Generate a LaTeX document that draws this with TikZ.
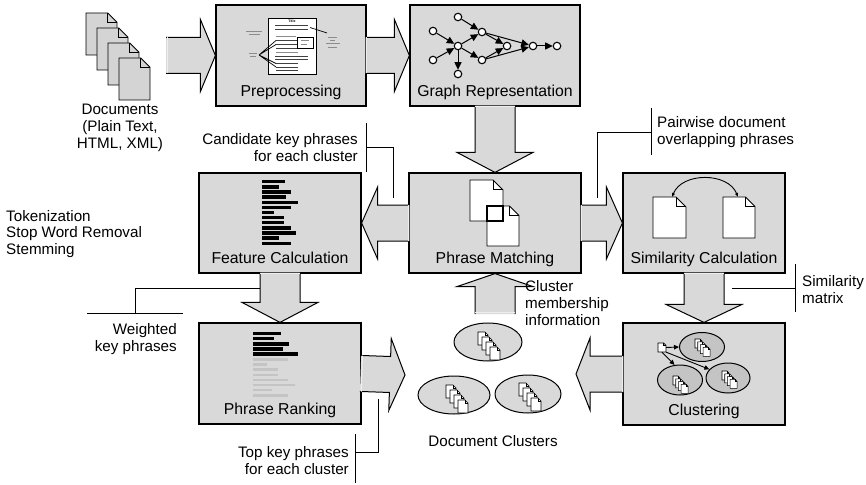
\documentclass[tikz,border=0pt]{standalone}
\usepackage{fontspec}
\setmainfont{Liberation Sans}
\usetikzlibrary{arrows.meta,calc,positioning,shapes.geometric}
\definecolor{boxgray}{gray}{0.85}
\definecolor{pagegray}{gray}{0.83}
\definecolor{ringgray}{gray}{0.77}
\definecolor{bargray}{gray}{0.77}

% one sheet with a folded corner, #2 = top left corner
\newcommand{\docpage}[4][white]{%
  \pgfmathsetmacro\dogear{0.3*#3}%
  \draw[fill=#1] (#2) -- ++({#3-\dogear},0) -- ++(\dogear,\dogear) -- ++(0,{#4-\dogear}) -- ++(-#3,0) -- cycle;
  \draw (#2) ++({#3-\dogear},0) -- ++(0,\dogear) -- ++(\dogear,0);
}
% four sheets stacked
\newcommand{\docstack}[7][white]{%
  \foreach \k in {0,...,3}{%
    \docpage[#1]{{#2+\k*#6},{#3+\k*#7}}{#4}{#5}}%
}
% block arrow from #2 to #3, #1 = head length
\newcommand{\fatarrow}[3][15]{%
  \coordinate (fa-t) at ($(#2)!-1pt!(#3)$);
  \coordinate (fa-p) at (#3);
  \coordinate (fa-b) at ($(fa-p)!#1pt!(fa-t)$);
  \coordinate (fa-t1) at ($(fa-t)!\shaft!90:(fa-p)$);
  \coordinate (fa-t2) at ($(fa-t)!\shaft!-90:(fa-p)$);
  \coordinate (fa-b1) at ($(fa-b)!\shaft!90:(fa-p)$);
  \coordinate (fa-b2) at ($(fa-b)!\shaft!-90:(fa-p)$);
  \coordinate (fa-h1) at ($(fa-b)!\head!90:(fa-p)$);
  \coordinate (fa-h2) at ($(fa-b)!\head!-90:(fa-p)$);
  \fill[arrowbody] (fa-t1) -- (fa-b1) -- (fa-h1) -- (fa-p) -- (fa-h2) -- (fa-b2) -- (fa-t2) -- cycle;
  \draw[arrowedge] (fa-t1) -- (fa-b1) -- (fa-h1) -- (fa-p) -- (fa-h2) -- (fa-b2) -- (fa-t2);
  \draw[arrowseam] ($(fa-t1)!1.2pt!(fa-b1)$) -- ($(fa-t2)!1.2pt!(fa-b2)$);
}

\begin{document}
\begin{tikzpicture}[x=1pt,y=-1pt,
    box/.style={draw, fill=boxgray, line width=1.2pt, inner sep=0pt},
    lbl/.style={font=\fontsize{15.8}{18}\selectfont, inner sep=0pt},
    note/.style={font=\fontsize{15.2}{16.9}\selectfont, inner sep=0pt},
    arrowbody/.style={fill=boxgray},
    arrowedge/.style={line width=1pt, line join=miter},
    arrowseam/.style={line width=1.2pt, white!55!boxgray},
    bracket/.style={line width=0.8pt},
    gnode/.style={circle, draw, fill=white, line width=1.1pt, minimum size=7.5pt, inner sep=0pt},
    gedge/.style={line width=1pt, -{Triangle[length=7.5pt,width=7pt]}},
    ring/.style={ellipse, draw, fill=boxgray, line width=1pt, inner sep=0pt},
    smallring/.style={ellipse, draw, fill=ringgray, line width=1pt, inner sep=0pt},
    thinarrow/.style={line width=0.9pt, -{Triangle[length=5pt,width=4.5pt]}}]
\def\shaft{18pt}
\def\head{36pt}
\useasboundingbox (0,0) rectangle (866,484);

%Boxes
\node[box, minimum width=150pt, minimum height=101pt] (pre) at (291,55.5) {};
\node[box, minimum width=170pt, minimum height=101pt] (graph) at (495,55.5) {};
\node[box, minimum width=162pt, minimum height=100pt] (feat) at (280,223) {};
\node[box, minimum width=172pt, minimum height=100pt] (match) at (495,223) {};
\node[box, minimum width=162pt, minimum height=100pt] (sim) at (704,223) {};
\node[box, minimum width=162pt, minimum height=101pt] (rank) at (280,373.5) {};
\node[box, minimum width=162pt, minimum height=102pt] (clus) at (704,374) {};

%Box labels
\node[lbl, anchor=base] (pre-l) at ([yshift=10.5pt]pre.south) {Preprocessing};
\node[lbl, anchor=base] (graph-l) at ([yshift=10.5pt]graph.south) {Graph Representation};
\node[lbl, anchor=base] (feat-l) at ([yshift=10.5pt]feat.south) {Feature Calculation};
\node[lbl, anchor=base] (match-l) at ([yshift=10.5pt]match.south) {Phrase Matching};
\node[lbl, anchor=base] (sim-l) at ([yshift=10.5pt]sim.south) {Similarity Calculation};
\node[lbl, anchor=base] (rank-l) at ([yshift=10.5pt]rank.south) {Phrase Ranking};
\node[lbl, anchor=base] (clus-l) at ([yshift=10.5pt]clus.south) {Clustering};

%Block arrows
\coordinate (docs-out) at (167,55.5);
\coordinate (rank-tip) at (405,375);
\coordinate (clus-tip) at (576,374);
\coordinate (memb-tail) at (495,313);
\fatarrow{docs-out}{pre.west}
\fatarrow{pre.east}{graph.west}
\fatarrow[16]{match.west}{feat.east}
\fatarrow[16]{match.east}{sim.west}
\fatarrow{rank.east}{rank-tip}
\fatarrow[14]{clus.west}{clus-tip}
\begin{scope}
  \def\shaft{20pt}
  \def\head{38pt}
  \fatarrow[20]{graph.south}{match.north}
  \fatarrow[18]{sim.south}{clus.north}
  \fatarrow[20]{feat.south}{rank.north}
  \fatarrow[13]{memb-tail}{match.south}
\end{scope}

%Documents
\begin{scope}[line width=0.8pt]
  \docstack[pagegray]{86}{13}{31}{42}{11}{15}
\end{scope}
\node[note, align=center] (docs) at (120,128) {Documents\\(Plain Text,\\HTML, XML)};

%Preprocessing sketch
\draw[fill=white, line width=0.8pt] (268,18) rectangle (316,74);
\node[inner sep=0pt, font=\fontsize{3.5}{4}\selectfont\bfseries] (title) at (292,21.5) {Title};
\begin{scope}[line width=0.9pt, black!75]
  \draw (275,25) -- (308,25) (275,29) -- (308,29);
  \draw (276,40) -- (297,40) (276,44) -- (297,44) (276,48) -- (297,48);
  \draw (275,56) -- (308,56) (275,59.5) -- (308,59.5);
  \draw (276,63.5) -- (298,63.5) (276,67) -- (298,67) (276,70.5) -- (298,70.5);
\end{scope}
\draw[line width=0.6pt] (297,37) rectangle (313,48.5);
\begin{scope}[line width=0.4pt, black!45]
  \draw (276,36) -- (296,36) (276,52) -- (298,52);
  \draw (301,40.5) -- (309,40.5) (301,44) -- (307,44);
  \draw (246,31) -- (262,31) (249,34) -- (260,34);
  \draw (249,53) -- (257,53) (250,56) -- (256,56);
  \draw (328,37) -- (337,37) (330,40) -- (335,40) (326,43.5) -- (340,43.5) (328,47) -- (337,47);
\end{scope}
\begin{scope}[line width=0.7pt]
  \draw (259,55) -- (276,40.5) (259,55) -- (276,44.5) (259,55) -- (276,63.5) (259,55) -- (276,67);
  \draw (310,27.5) -- (327,33);
\end{scope}

%Graph sketch
\node[gnode] (g1) at (458,17) {};
\node[gnode] (g2) at (433,31) {};
\node[gnode] (g3) at (433,60) {};
\node[gnode] (g4) at (458,46) {};
\node[gnode] (g5) at (482,32) {};
\node[gnode] (g6) at (482,60) {};
\node[gnode] (g7) at (458,74) {};
\node[gnode] (g8) at (507,46) {};
\node[gnode] (g9) at (533,46) {};
\node[gnode] (g10) at (557,46) {};
\foreach \a/\b in {g1/g5, g2/g4, g3/g4, g4/g5, g4/g6, g4/g7, g5/g8, g6/g8, g5/g9, g6/g9, g9/g10}
  \draw[gedge] (\a) -- (\b);

%Feature bars
\foreach \w [count=\i] in {23,17,29,24,36,29,12,22,22,29,34,17,29}
  \fill (262,{174.9+\i*5.13}) rectangle ++(\w,3.4);

%Ranked bars
\foreach \w [count=\i] in {28,21,36,30,45}
  \fill (253,{326.4+\i*5.2}) rectangle ++(\w,3.6);
\foreach \w [count=\i] in {35,14,25,25,35,42,19,35}
  \fill[bargray] (253,{353.1+\i*5.1}) rectangle ++(\w,2.6);

%Overlapping pages
\begin{scope}[line width=0.9pt]
  \docpage{470,180}{33}{41}
  \docpage{487,206}{32}{40}
\end{scope}
\draw[line width=2pt] (487,206) rectangle (503,221);

%Similarity pages
\begin{scope}[line width=0.9pt]
  \docpage{653,197}{33}{41}
  \docpage{723,197}{32}{41}
\end{scope}
\coordinate (sim-a) at (672,197);
\coordinate (sim-b) at (738,197);
\draw[line width=0.9pt, {Latex[length=4pt,width=3.5pt]}-{Latex[length=4pt,width=3.5pt]}] (sim-a) .. controls (682,172) and (728,172) .. (sim-b);

%Clustering sketch
\node[smallring, minimum width=45pt, minimum height=29pt] (ce1) at (702,347) {};
\node[smallring, minimum width=45pt, minimum height=30pt] (ce2) at (680,380) {};
\node[smallring, minimum width=44pt, minimum height=30pt] (ce3) at (728,378) {};
\node[inner sep=0pt, minimum width=8pt, minimum height=9pt] (src) at (662,347.5) {};
\begin{scope}[line width=0.6pt]
  \docpage{658,343}{8}{9}
  \docstack{695}{339}{7}{9}{2.7}{2.8}
  \docstack{673}{376}{7}{9}{2.7}{2.8}
  \docstack{722}{371}{7}{9}{2.7}{2.8}
\end{scope}
\draw[thinarrow] (src.east) -- (ce1.west);
\draw[thinarrow] (src.south) -- (ce2.110);
\draw[thinarrow] (src.south east) -- (ce3.155);

%Document clusters
\node[ring, minimum width=68pt, minimum height=38pt] (dc1) at (488,342) {};
\node[ring, minimum width=72pt, minimum height=38pt] (dc2) at (454,395) {};
\node[ring, minimum width=66pt, minimum height=38pt] (dc3) at (528,394) {};
\begin{scope}[line width=0.6pt]
  \docstack{478}{332}{10}{13}{4}{5}
  \docstack{446}{385}{10}{13}{4}{5}
  \docstack{519}{383}{10}{13}{4}{5}
\end{scope}
\node[note] (dc-l) at (493,441) {Document Clusters};

%Notes
\node[note, anchor=east, align=right] (cand) at (358,148) {Candidate key phrases\\for each cluster};
\node[note, anchor=west, align=left] (pair) at (657,132) {Pairwise document\\overlapping phrases};
\node[note, anchor=west, align=left] (simm) at (802,290) {Similarity\\matrix};
\node[note, anchor=west, align=left] (prep) at (6,234) {Tokenization\\Stop Word Removal\\Stemming};
\node[note, anchor=east, align=right] (wkp) at (177,339) {Weighted\\key phrases};
\node[note, anchor=east, align=right] (top) at (349,461) {Top key phrases\\for each cluster};
\node[note, anchor=west, align=left] (memb) at (525,303) {Cluster\\membership\\information};

%Brackets
\coordinate (cand-end) at (393,198);
\coordinate (pair-end) at (597,198);
\coordinate (simm-end) at (732,288);
\coordinate (wkp-end) at (260,288);
\coordinate (top-end) at (378,399);
\draw[bracket] (366,123) -- (366,172) (366,147) -| (cand-end);
\draw[bracket] (651,108) -- (651,155) (651,132) -| (pair-end);
\draw[bracket] (795,264) -- (795,312) (795,288) -- (simm-end);
\draw[bracket] (87,313) -- (183,313) (135,313) |- (wkp-end);
\draw[bracket] (355,434) -- (355,483) (355,452) -| (top-end);
\end{tikzpicture}
\end{document}
